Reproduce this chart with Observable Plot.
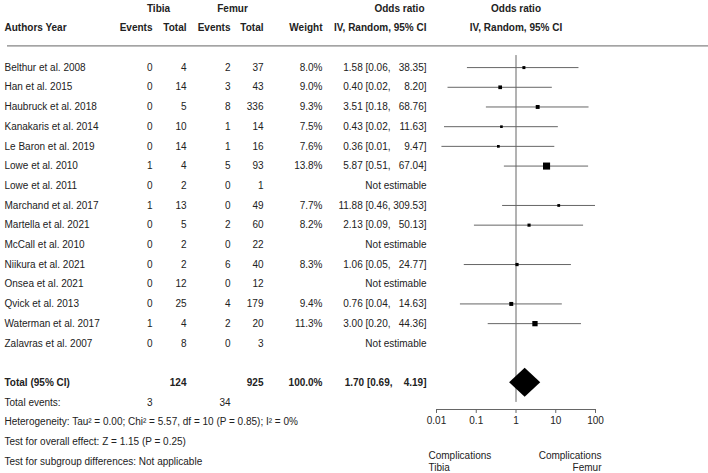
<!DOCTYPE html>
<html><head><meta charset="utf-8">
<script src="https://cdn.jsdelivr.net/npm/d3@7"></script>
<script src="https://cdn.jsdelivr.net/npm/@observablehq/plot@0.6"></script>
<style>
body{margin:0;background:#fff;}
#chart svg{display:block;}
</style></head><body><div id="chart"></div>
<script>
// ---- data ----
const studies = ["Belthur et al. 2008","Han et al. 2015","Haubruck et al. 2018","Kanakaris et al. 2014","Le Baron et al. 2019","Lowe et al. 2010","Lowe et al. 2011","Marchand et al. 2017","Martella et al. 2021","McCall et al. 2010","Niikura et al. 2021","Onsea et al. 2021","Qvick et al. 2013","Waterman et al. 2017","Zalavras et al. 2007"];
const tibiaEvents = [0,0,0,0,0,1,0,1,0,0,0,0,0,1,0];
const tibiaTotal  = [4,14,5,10,14,4,2,13,5,2,2,12,25,4,8];
const femurEvents = [2,3,8,1,1,5,0,0,2,0,6,0,4,2,0];
const femurTotal  = [37,43,336,14,16,93,1,49,60,22,40,12,179,20,3];
const weights     = [8.0,9.0,9.3,7.5,7.6,13.8,null,7.7,8.2,null,8.3,null,9.4,11.3,null];
const oddsRatio   = [1.58,0.40,3.51,0.43,0.36,5.87,null,11.88,2.13,null,1.06,null,0.76,3.00,null];
const ciLower     = [0.06,0.0195,0.18,0.0159,0.0137,0.51,null,0.46,0.09,null,0.05,null,0.04,0.20,null];
const ciUpper     = [38.35,8.20,68.76,11.63,9.47,67.04,null,309.53,50.13,null,24.77,null,14.63,44.36,null];
const totalTibia = 124, totalFemur = 925, totalWeight = 100.0;
const totalOR = 1.70, totalLower = 0.69, totalUpper = 4.19;
const eventsTibia = 3, eventsFemur = 34;
const statLines = [
  "Heterogeneity: Tau\u00B2 = 0.00; Chi\u00B2 = 5.57, df = 10 (P = 0.85); I\u00B2 = 0%",
  "Test for overall effect: Z = 1.15 (P = 0.25)",
  "Test for subgroup differences: Not applicable"
];
const tickValues = [0.01,0.1,1,10,100];
const tickLabels = ["0.01","0.1","1","10","100"];
const leftLabel = "Complications\nTibia";
const rightLabel = "Complications\nFemur";

// ---- layout ----
const W = 708, H = 473, ML = 7;
const FS = 10, FONT = "'Liberation Sans', Arial, sans-serif";
const TXT = "#222", LINE = "#666";
const col = {te:152, tt:186, fe:230, ft:263, w:322, orL:390, orR:426};
const rowTotal = 16, rowEvents = 17, axisRow = 17.36;
const f2 = v => v.toFixed(2);

const rows = studies.map((s,i)=>({
  i, study:s, te:tibiaEvents[i], tt:tibiaTotal[i], fe:femurEvents[i], ft:femurTotal[i],
  w:weights[i], or:oddsRatio[i], lo:ciLower[i], hi:ciUpper[i]
}));
const est = rows.filter(d=>d.or!=null);
const nonEst = rows.filter(d=>d.or==null);
const side = w => 3 + (w-8)*0.7;

const T = (data, dxPx, text, opts={}) => Plot.text(data, {
  frameAnchor:"left", dx: dxPx - ML, text, fontSize:FS, fill:TXT, fontFamily:FONT, ...opts
});
const one = [0];
const h = 0.74;
const diamond = [
  {x:totalLower, y1:rowTotal, y2:rowTotal},
  {x:totalOR, y1:rowTotal-h, y2:rowTotal+h},
  {x:totalUpper, y1:rowTotal, y2:rowTotal}
];
const B = {fontWeight:"bold"};

const chart = Plot.plot({
  width: W, height: H,
  marginLeft: ML, marginRight: 0, marginTop: 0, marginBottom: H-409,
  x: {type:"log", domain:[0.01,100], range:[436,595], clamp:true, axis:null},
  y: {domain:[-3,20], range:[8,461], axis:null},
  r: {type:"identity"},
  style: {background:"#fff", fontFamily:FONT},
  marks: [
    // header
    T(one, 158, ()=>"Tibia", {y:()=>-3, textAnchor:"middle", ...B}),
    T(one, 232, ()=>"Femur", {y:()=>-3, textAnchor:"middle", ...B}),
    T(one, 424, ()=>"Odds ratio", {y:()=>-3, textAnchor:"end", ...B}),
    Plot.text(one, {x:()=>1, y:()=>-3, text:()=>"Odds ratio", fontSize:FS, fill:TXT, fontFamily:FONT, ...B}),
    T(one, 4, ()=>"Authors Year", {y:()=>-2, textAnchor:"start", ...B}),
    T(one, col.te, ()=>"Events", {y:()=>-2, textAnchor:"end", ...B}),
    T(one, col.tt, ()=>"Total", {y:()=>-2, textAnchor:"end", ...B}),
    T(one, col.fe, ()=>"Events", {y:()=>-2, textAnchor:"end", ...B}),
    T(one, col.ft, ()=>"Total", {y:()=>-2, textAnchor:"end", ...B}),
    T(one, col.w, ()=>"Weight", {y:()=>-2, textAnchor:"end", ...B}),
    T(one, col.orR, ()=>"IV, Random, 95% CI", {y:()=>-2, textAnchor:"end", ...B}),
    Plot.text(one, {x:()=>1, y:()=>-2, text:()=>"IV, Random, 95% CI", fontSize:FS, fill:TXT, fontFamily:FONT, ...B}),
    Plot.ruleY([-1.1], {stroke:LINE}),
    // study rows
    T(rows, 4, "study", {y:"i", textAnchor:"start"}),
    T(rows, col.te, "te", {y:"i", textAnchor:"end"}),
    T(rows, col.tt, "tt", {y:"i", textAnchor:"end"}),
    T(rows, col.fe, "fe", {y:"i", textAnchor:"end"}),
    T(rows, col.ft, "ft", {y:"i", textAnchor:"end"}),
    T(est, col.w, d=>d.w.toFixed(1)+"%", {y:"i", textAnchor:"end"}),
    T(est, col.orL, d=>`${f2(d.or)} [${f2(d.lo)},`, {y:"i", textAnchor:"end"}),
    T(est, col.orR, d=>`${f2(d.hi)}]`, {y:"i", textAnchor:"end"}),
    T(nonEst, col.orR, ()=>"Not estimable", {y:"i", textAnchor:"end"}),
    // total row
    T(one, 4, ()=>"Total (95% CI)", {y:()=>rowTotal, textAnchor:"start", ...B}),
    T(one, col.tt, ()=>String(totalTibia), {y:()=>rowTotal, textAnchor:"end", ...B}),
    T(one, col.ft, ()=>String(totalFemur), {y:()=>rowTotal, textAnchor:"end", ...B}),
    T(one, col.w, ()=>totalWeight.toFixed(1)+"%", {y:()=>rowTotal, textAnchor:"end", ...B}),
    T(one, col.orL+2, ()=>`${f2(totalOR)} [${f2(totalLower)},`, {y:()=>rowTotal, textAnchor:"end", ...B}),
    T(one, col.orR, ()=>`${f2(totalUpper)}]`, {y:()=>rowTotal, textAnchor:"end", ...B}),
    T(one, 4, ()=>"Total events:", {y:()=>rowEvents, textAnchor:"start"}),
    T(one, col.te, ()=>String(eventsTibia), {y:()=>rowEvents, textAnchor:"end"}),
    T(one, col.fe, ()=>String(eventsFemur), {y:()=>rowEvents, textAnchor:"end"}),
    T(statLines, 4, d=>d, {y:(d,i)=>rowEvents+1+i, textAnchor:"start"}),
    // forest
    Plot.ruleX([1], {y1:-0.61, y2:17.0, stroke:LINE}),
    Plot.ruleY(est, {y:"i", x1:"lo", x2:"hi", stroke:LINE}),
    Plot.dot(est, {x:"or", y:"i", symbol:"square", r:d=>side(d.w)/Math.sqrt(Math.PI), fill:"#000", stroke:null}),
    Plot.areaY(diamond, {x:"x", y1:"y1", y2:"y2", fill:"#000"}),
    Plot.ruleY([axisRow], {x1:0.01, x2:100, stroke:LINE}),
    Plot.ruleX(tickValues, {x:d=>d, y1:axisRow, y2:axisRow+0.2, stroke:LINE}),
    Plot.text(tickValues, {x:d=>d, y:()=>17.92, text:d=>tickLabels[tickValues.indexOf(d)], fontSize:FS, fill:TXT, fontFamily:FONT}),
    Plot.text(one, {x:()=>0.01, y:()=>20.0, dx:-8, text:()=>leftLabel, textAnchor:"start", lineHeight:1.2, fontSize:FS, fill:TXT, fontFamily:FONT}),
    Plot.text(one, {x:()=>100, y:()=>20.0, dx:6, text:()=>rightLabel, textAnchor:"end", lineHeight:1.2, fontSize:FS, fill:TXT, fontFamily:FONT})
  ]
});
document.getElementById("chart").appendChild(chart);
</script>
</body></html>
